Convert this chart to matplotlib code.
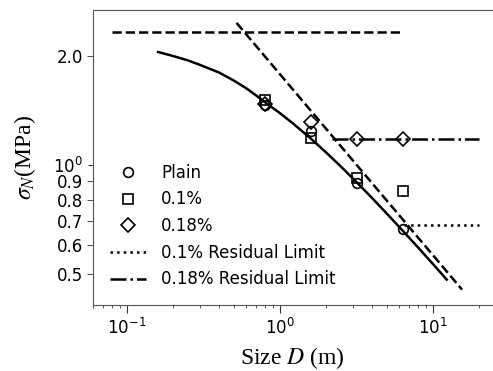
import matplotlib
matplotlib.use("Agg")
import matplotlib.pyplot as plt
from matplotlib.ticker import FixedLocator, FixedFormatter

# specimen sizes (m) and nominal strengths (MPa)
sizes = [0.8, 1.6, 3.2, 6.4]
plain = [1.46, 1.24, 0.89, 0.665]
fib_01 = [1.51, 1.19, 0.92, 0.848]
fib_018 = [1.47, 1.31, 1.18, 1.18]

# fitted size effect curve
curve_D = [0.16, 0.2, 0.25, 0.3, 0.4, 0.5, 0.6, 0.7, 0.8, 1.0, 1.2, 1.6, 2.0,
           2.5, 3.2, 4.0, 5.0, 6.4, 8.0, 10.0, 12.3]
curve_s = [2.051, 2.0, 1.945, 1.89, 1.80, 1.71, 1.63, 1.555, 1.49, 1.39, 1.308,
           1.18, 1.083, 0.99, 0.892, 0.81, 0.733, 0.655, 0.591, 0.532, 0.482]

# asymptotes
plastic_D = [0.08, 6.4]
plastic_s = [2.33, 2.33]
lefm_D = [0.52, 15.5]
lefm_s = [2.47, 0.452]

# residual limits
res01_D = [6.5, 20]
res01_s = [0.683, 0.683]
res018_D = [2.2, 20]
res018_s = [1.18, 1.18]

fig = plt.figure(figsize=(4.93, 3.71), dpi=100)
ax = fig.add_axes([93/493, 66/371, 399/493, 295/371])

ax.plot(curve_D, curve_s, color="black", lw=1.8)
ax.plot(plastic_D, plastic_s, color="black", lw=1.8, ls="--")
ax.plot(lefm_D, lefm_s, color="black", lw=1.8, ls="--")

ax.plot(sizes, plain, ls="none", marker="o", mfc="none", mec="black", ms=7, mew=1.2, label="Plain")
ax.plot(sizes, fib_01, ls="none", marker="s", mfc="none", mec="black", ms=7, mew=1.2, label="0.1%")
ax.plot(sizes, fib_018, ls="none", marker="D", mfc="none", mec="black", ms=7, mew=1.2, label="0.18%")
ax.plot(res01_D, res01_s, color="black", lw=1.8, ls=":", label="0.1% Residual Limit")
ax.plot(res018_D, res018_s, color="black", lw=1.8, ls="-.", label="0.18% Residual Limit")

ax.set_xscale("log")
ax.set_yscale("log")
ax.set_xlim(0.06, 24.3)
ax.set_ylim(0.41, 2.68)

ax.yaxis.set_major_locator(FixedLocator([1.0]))
ax.yaxis.set_major_formatter(FixedFormatter(["$10^0$"]))
ax.yaxis.set_minor_locator(FixedLocator([0.5, 0.6, 0.7, 0.8, 0.9, 2.0]))
ax.yaxis.set_minor_formatter(FixedFormatter(["0.5", "0.6", "0.7", "0.8", "0.9", "2.0"]))
ax.tick_params(axis="both", which="both", labelsize=12, color="#333333")
ax.tick_params(axis="y", which="minor", length=4)
ax.tick_params(axis="x", which="major", length=6)

for s in ["left", "bottom", "top"]:
    ax.spines[s].set_color("#555555")
ax.spines["right"].set_visible(False)

ax.set_xlabel("Size $D$ (m)", fontsize=17, family="Liberation Serif",
              math_fontfamily="stix", labelpad=5)
ax.set_ylabel(r"$\sigma_N$(MPa)", fontsize=17, family="Liberation Serif",
              math_fontfamily="stix", labelpad=11)

ax.legend(loc="lower left", frameon=False, fontsize=12, handlelength=2.2,
          borderaxespad=0.6, labelspacing=0.52, handletextpad=0.9)

fig.savefig("out.png", dpi=100)
